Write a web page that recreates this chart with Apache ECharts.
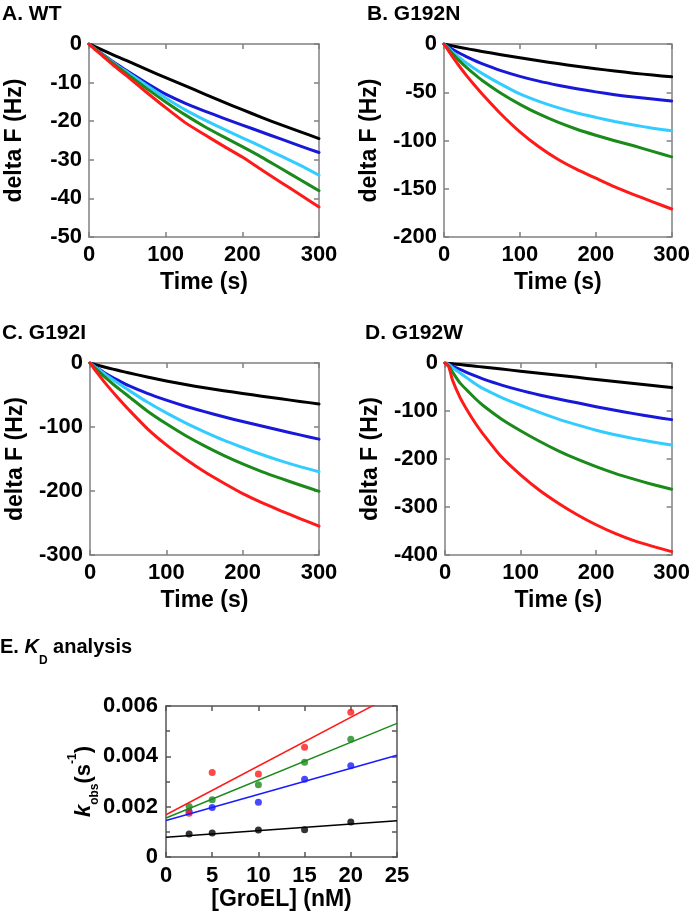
<!DOCTYPE html>
<html><head><meta charset="utf-8">
<script src="https://cdn.jsdelivr.net/npm/echarts@6/dist/echarts.min.js"></script>
<style>html,body{margin:0;padding:0;background:#fff}#c{width:693px;height:915px}</style>
</head><body><div id="c"></div>
<script>
// ---------- data ----------
const time = [0, 5, 10, 20, 30, 40, 50, 75, 100, 125, 150, 175, 200, 225, 250, 275, 300];

const wtBlack = [0, -0.45, -0.9, -1.8, -2.7, -3.55, -4.4, -6.6, -8.7, -10.8, -12.9, -15.0, -17.0, -19.0, -20.9, -22.7, -24.5];
const wtBlue  = [0, -0.8, -1.5, -3.0, -4.4, -5.7, -7.0, -10.1, -13.0, -15.3, -17.3, -19.2, -21.0, -22.8, -24.6, -26.4, -28.1];
const wtCyan  = [0, -0.8, -1.6, -3.1, -4.6, -6.0, -7.3, -10.7, -14.0, -17.0, -19.6, -22.0, -24.3, -26.6, -29.0, -31.4, -34.0];
const wtGreen = [0, -0.8, -1.6, -3.2, -4.8, -6.3, -7.8, -11.5, -15.0, -18.3, -21.3, -24.0, -26.6, -29.3, -32.2, -35.1, -38.0];
const wtRed   = [0, -0.9, -1.8, -3.5, -5.2, -6.8, -8.4, -12.5, -16.5, -20.3, -23.4, -26.4, -29.3, -32.6, -35.8, -39.0, -42.2];

const nBlack = [0, -0.9, -1.7, -3.3, -4.8, -6.3, -7.7, -11.1, -14.3, -17.4, -20.3, -23.0, -25.6, -28.0, -30.2, -32.2, -34.0];
const nBlue  = [0, -2.5, -4.9, -9.3, -13.3, -17.0, -20.4, -27.6, -33.5, -38.5, -42.7, -46.4, -49.6, -52.5, -55.0, -57.1, -59.0];
const nCyan  = [0, -3.8, -7.4, -14.0, -20.0, -25.4, -30.4, -41.6, -51.8, -59.5, -66.0, -71.5, -76.0, -80.3, -84.0, -87.2, -90.0];
const nGreen = [0, -4.6, -9.0, -17.2, -24.6, -31.3, -37.5, -51.0, -62.5, -72.5, -81.0, -88.3, -94.5, -100.2, -105.5, -111.3, -117.0];
const nRed   = [0, -6.0, -11.8, -22.8, -33.0, -42.5, -51.5, -72.5, -91.0, -106.5, -119.5, -130.0, -139.0, -148.0, -156.0, -163.5, -171.0];

const iBlack = [0, -1.7, -3.4, -6.6, -9.6, -12.5, -15.3, -21.8, -28.0, -33.6, -38.7, -43.3, -47.6, -51.8, -56.0, -60.0, -64.0];
const iBlue  = [0, -4.3, -8.4, -16.0, -22.8, -29.0, -35.0, -47.5, -58.0, -67.5, -76.0, -84.0, -91.5, -98.5, -105.5, -112.3, -119.0];
const iCyan  = [0, -4.6, -9.1, -17.8, -26.0, -34.0, -42.0, -61.0, -78.0, -93.5, -107.5, -120.5, -132.0, -143.0, -153.0, -162.0, -170.0];
const iGreen = [0, -5.9, -11.6, -22.6, -32.8, -42.4, -51.5, -74.9, -95.0, -113.2, -129.5, -144.3, -157.6, -169.6, -180.4, -190.6, -200.5];
const iRed   = [0, -8.2, -16.2, -31.5, -45.5, -59.0, -72.0, -102.5, -128.0, -150.0, -170.0, -187.5, -204.0, -218.0, -231.0, -243.0, -255.0];

const wBlack = [0, -0.8, -1.6, -3.3, -5.0, -6.7, -8.4, -12.7, -17.0, -21.3, -25.6, -29.9, -34.2, -38.5, -42.7, -46.9, -51.0];
const wBlue  = [0, -3.0, -6.5, -13.5, -20.5, -27.0, -33.0, -46.0, -57.0, -66.5, -75.0, -83.0, -91.0, -98.5, -105.5, -112.0, -118.0];
const wCyan  = [0, -3.0, -10.0, -21.0, -32.0, -43.0, -53.0, -72.0, -88.0, -103.0, -117.0, -129.0, -140.0, -149.5, -157.5, -164.5, -171.0];
const wGreen = [0, -6.0, -19.0, -42.0, -58.0, -74.0, -88.0, -117.0, -141.0, -163.0, -183.0, -200.5, -216.0, -230.0, -242.0, -253.0, -263.0];
const wRed   = [0, -8.0, -36.0, -72.0, -100.0, -125.0, -147.0, -196.0, -233.0, -265.0, -292.0, -316.0, -337.0, -355.0, -370.0, -382.0, -393.0];

const panelTitles = ['A. WT', 'B. G192N', 'C. G192I', 'D. G192W'];
const panelYMin = [-50, -200, -300, -400];
const panelYStep = [10, 50, 100, 100];
const timeMax = 300, timeStep = 100;

// panel E
const groel = [2.5, 5, 10, 15, 20];
const kRed   = [0.00174, 0.00336, 0.00330, 0.00436, 0.00575];
const kGreen = [0.00201, 0.00227, 0.00287, 0.00376, 0.00468];
const kBlue  = [0.00181, 0.00197, 0.00218, 0.00309, 0.00363];
const kBlack = [0.00091, 0.00095, 0.00107, 0.00108, 0.00139];
const fitX = [0, 25];
const fitRed   = [0.00168, 0.00652];
const fitGreen = [0.00155, 0.00531];
const fitBlue  = [0.00145, 0.00404];
const fitBlack = [0.00078, 0.00144];

// ---------- styling ----------
const colors = ['#000000', '#1818d8', '#33ccff', '#1a8a1a', '#ff1a1a'];
const ptColors = ['#000000', '#1a1aff', '#1a8a1a', '#ff1a1a'];
const FONT = '"Liberation Sans", Arial, sans-serif';
const frameColor = '#808080';
const panels = [
  [wtBlack, wtBlue, wtCyan, wtGreen, wtRed],
  [nBlack, nBlue, nCyan, nGreen, nRed],
  [iBlack, iBlue, iCyan, iGreen, iRed],
  [wBlack, wBlue, wCyan, wGreen, wRed]
];
const grids = [
  {left: 89, top: 44, width: 230, height: 193},
  {left: 444, top: 44, width: 229, height: 193},
  {left: 90, top: 363, width: 229, height: 192},
  {left: 445, top: 363, width: 229, height: 192},
  {left: 166, top: 706, width: 231, height: 151}
];
const titlePos = [{left: 2, top: 4}, {left: 367, top: 4}, {left: 2, top: 323}, {left: 365, top: 323}];

const lbl = {color: '#000', fontSize: 22, fontWeight: 'bold', fontFamily: FONT};
const nameStyle = {color: '#000', fontSize: 23, fontWeight: 'bold', fontFamily: FONT};

function frameAxis(extra, color) {
  return Object.assign({
    type: 'value',
    axisLine: {show: true, onZero: false, lineStyle: {color: color, width: 1.5}},
    axisTick: {show: true, inside: true, length: 5, lineStyle: {color: color, width: 1.5}},
    splitLine: {show: false}
  }, extra);
}

const xAxes = [], yAxes = [], series = [], titles = [];
panels.forEach((p, i) => {
  xAxes.push(frameAxis({gridIndex: i, position: 'bottom', min: 0, max: timeMax, interval: timeStep,
    axisLabel: Object.assign({margin: 7}, lbl),
    name: 'Time (s)', nameLocation: 'middle', nameGap: 34, nameTextStyle: nameStyle}, frameColor));
  xAxes.push(frameAxis({gridIndex: i, position: 'top', min: 0, max: timeMax, interval: timeStep,
    axisLabel: {show: false}}, frameColor));
  yAxes.push(frameAxis({gridIndex: i, position: 'left', min: panelYMin[i], max: 0, interval: panelYStep[i],
    axisLabel: Object.assign({margin: 7}, lbl),
    name: 'delta F (Hz)', nameLocation: 'middle', nameGap: 63, nameTextStyle: nameStyle}, frameColor));
  yAxes.push(frameAxis({gridIndex: i, position: 'right', min: panelYMin[i], max: 0, interval: panelYStep[i],
    axisLabel: {show: false}}, frameColor));
  p.forEach((vals, k) => {
    series.push({
      type: 'line', xAxisIndex: 2 * i, yAxisIndex: 2 * i,
      data: time.map((t, j) => [t, vals[j]]),
      showSymbol: false, smooth: 0.2,
      lineStyle: {color: colors[k], width: 3, join: 'round', cap: 'round'}, itemStyle: {color: colors[k]},
      silent: true, animation: false
    });
  });
  titles.push(Object.assign({text: panelTitles[i], padding: 0,
    textStyle: {color: '#000', fontSize: 21, fontWeight: 'bold', fontFamily: FONT}}, titlePos[i]));
});

// Panel E axes
const eColor = '#555555';
xAxes.push(frameAxis({gridIndex: 4, position: 'bottom', min: 0, max: 25, interval: 5,
  axisLabel: Object.assign({margin: 8}, lbl),
  name: '[GroEL] (nM)', nameLocation: 'middle', nameGap: 30, nameTextStyle: nameStyle}, eColor));
xAxes.push(frameAxis({gridIndex: 4, position: 'top', min: 0, max: 25, interval: 5, axisLabel: {show: false}}, eColor));
yAxes.push(frameAxis({gridIndex: 4, position: 'left', min: 0, max: 0.006, interval: 0.002,
  minorTick: {show: true, splitNumber: 2, length: 4, lineStyle: {color: eColor, width: 1.5}},
  axisLabel: Object.assign({margin: 8, formatter: v => v === 0 ? '0' : v.toFixed(3)}, lbl),
  name: '{k|k}{sub|obs}{n|(s}{sup|-1}{n|)}', nameLocation: 'middle', nameGap: 65, nameMoveOverlap: false,
  nameTextStyle: {rich: {
    k: {fontSize: 22, fontWeight: 'bold', fontStyle: 'italic', fontFamily: FONT, color: '#000', lineHeight: 34},
    sub: {fontSize: 12, fontWeight: 'bold', fontFamily: FONT, color: '#000', lineHeight: 13, verticalAlign: 'bottom'},
    n: {fontSize: 22, fontWeight: 'bold', fontFamily: FONT, color: '#000', lineHeight: 34},
    sup: {fontSize: 12, fontWeight: 'bold', fontFamily: FONT, color: '#000', lineHeight: 13, verticalAlign: 'top'}
  }}}, eColor));
yAxes.push(frameAxis({gridIndex: 4, position: 'right', min: 0, max: 0.006, interval: 0.001, axisLabel: {show: false}}, eColor));

const fitSets = [fitBlack, fitBlue, fitGreen, fitRed];
const ptSets = [kBlack, kBlue, kGreen, kRed];
fitSets.forEach((f, k) => {
  series.push({type: 'line', xAxisIndex: 8, yAxisIndex: 8, data: fitX.map((x, j) => [x, f[j]]),
    showSymbol: false, clip: true, lineStyle: {color: ptColors[k], width: 1.5}, silent: true, animation: false});
});
ptSets.forEach((pts, k) => {
  series.push({type: 'scatter', xAxisIndex: 8, yAxisIndex: 8, data: groel.map((x, j) => [x, pts[j]]),
    symbol: 'circle', symbolSize: 7, itemStyle: {color: ptColors[k]}, silent: true, animation: false});
});

titles.push({left: 0, top: 627, padding: 0, text: '{n|E. }{k|K}{sub|D}{n| analysis}',
  textStyle: {color: '#000', fontSize: 20, fontWeight: 'bold', fontFamily: FONT, lineHeight: 40,
    rich: {
      k: {fontSize: 20, fontWeight: 'bold', fontStyle: 'italic', fontFamily: FONT, color: '#000', lineHeight: 40},
      sub: {fontSize: 12, fontWeight: 'bold', fontFamily: FONT, color: '#000', lineHeight: 14, verticalAlign: 'bottom'},
      n: {fontSize: 20, fontWeight: 'bold', fontFamily: FONT, color: '#000', lineHeight: 40}
    }}});

const chart = echarts.init(document.getElementById('c'), null, {renderer: 'canvas'});
chart.setOption({
  animation: false,
  backgroundColor: '#fff',
  title: titles,
  grid: grids,
  xAxis: xAxes,
  yAxis: yAxes,
  series: series
});
</script></body></html>
